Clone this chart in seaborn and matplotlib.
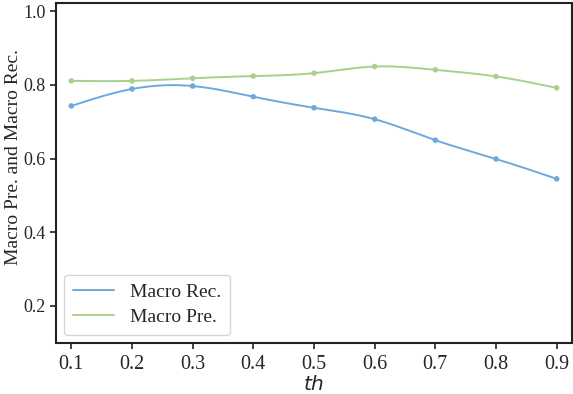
import numpy as np
import pandas as pd
import matplotlib
matplotlib.use("Agg")
import matplotlib.pyplot as plt
import seaborn as sns

# values
th = [0.1, 0.2, 0.3, 0.4, 0.5, 0.6, 0.7, 0.8, 0.9]
macro_rec = [0.743, 0.789, 0.797, 0.768, 0.738, 0.707, 0.650, 0.599, 0.545]
macro_pre = [0.811, 0.811, 0.818, 0.824, 0.832, 0.850, 0.841, 0.823, 0.792]
series_names = ["Macro Rec.", "Macro Pre."]
colors = ["#6fa8dc", "#a9d18e"]


def smooth(x, y, n=200):
    # natural cubic spline, only used to draw the curve between the points
    x = np.asarray(x, float)
    y = np.asarray(y, float)
    k = len(x)
    h = np.diff(x)
    A = np.zeros((k, k))
    b = np.zeros(k)
    A[0, 0] = A[-1, -1] = 1
    for i in range(1, k - 1):
        A[i, i - 1] = h[i - 1]
        A[i, i] = 2 * (h[i - 1] + h[i])
        A[i, i + 1] = h[i]
        b[i] = 6 * ((y[i + 1] - y[i]) / h[i] - (y[i] - y[i - 1]) / h[i - 1])
    m = np.linalg.solve(A, b)
    xs = np.linspace(x[0], x[-1], n)
    idx = np.clip(np.searchsorted(x, xs) - 1, 0, k - 2)
    x0, x1 = x[idx], x[idx + 1]
    y0, y1 = y[idx], y[idx + 1]
    m0, m1 = m[idx], m[idx + 1]
    hh = x1 - x0
    t0 = x1 - xs
    t1 = xs - x0
    ys = (m0 * t0**3 + m1 * t1**3) / (6 * hh) + (y0 / hh - m0 * hh / 6) * t0 + (y1 / hh - m1 * hh / 6) * t1
    return xs, ys


sns.set_theme(style="ticks")
plt.rcParams['font.family'] = ['Liberation Serif', 'DejaVu Serif']
plt.rcParams['mathtext.fontset'] = 'dejavusans'

fig, ax = plt.subplots(figsize=(5.73, 3.94), dpi=100)

df = pd.DataFrame({"th": th * 2,
                   "value": macro_rec + macro_pre,
                   "series": [series_names[0]] * len(th) + [series_names[1]] * len(th)})

for name, vals, c in zip(series_names, [macro_rec, macro_pre], colors):
    xs, ys = smooth(th, vals)
    ax.plot(xs, ys, color=c, lw=1.4, label=name)

sns.scatterplot(data=df, x="th", y="value", hue="series", palette=colors,
                s=16, edgecolor="none", legend=False, ax=ax, zorder=3)

ax.set_xlim(0.075, 0.925)
ax.set_ylim(0.1, 1.022)
ax.set_xticks(th)
ax.set_xticklabels([f"{v:.1f}" for v in th])
ax.set_yticks([0.2, 0.4, 0.6, 0.8, 1.0])
ax.tick_params(axis="x", labelsize=14.5, width=1.2, length=4, pad=5, color="#222222")
ax.tick_params(axis="y", labelsize=13, width=1.2, length=4, color="#222222")
for sp in ax.spines.values():
    sp.set_linewidth(1.5)
    sp.set_color("#222222")

ax.set_xlabel("$th$", fontsize=14.5, labelpad=1)
ax.set_ylabel("Macro Pre. and Macro Rec.", fontsize=14)
ax.yaxis.set_label_coords(-0.066, 0.547)

ax.legend(loc="lower left", fontsize=14, frameon=True, borderpad=0.45,
          handlelength=2.15, labelspacing=0.4, handletextpad=0.8,
          borderaxespad=0.4, bbox_to_anchor=(0.0, 0.0))

fig.subplots_adjust(left=0.098, right=0.998, top=0.992, bottom=0.13)
fig.savefig("out.png", dpi=100)
